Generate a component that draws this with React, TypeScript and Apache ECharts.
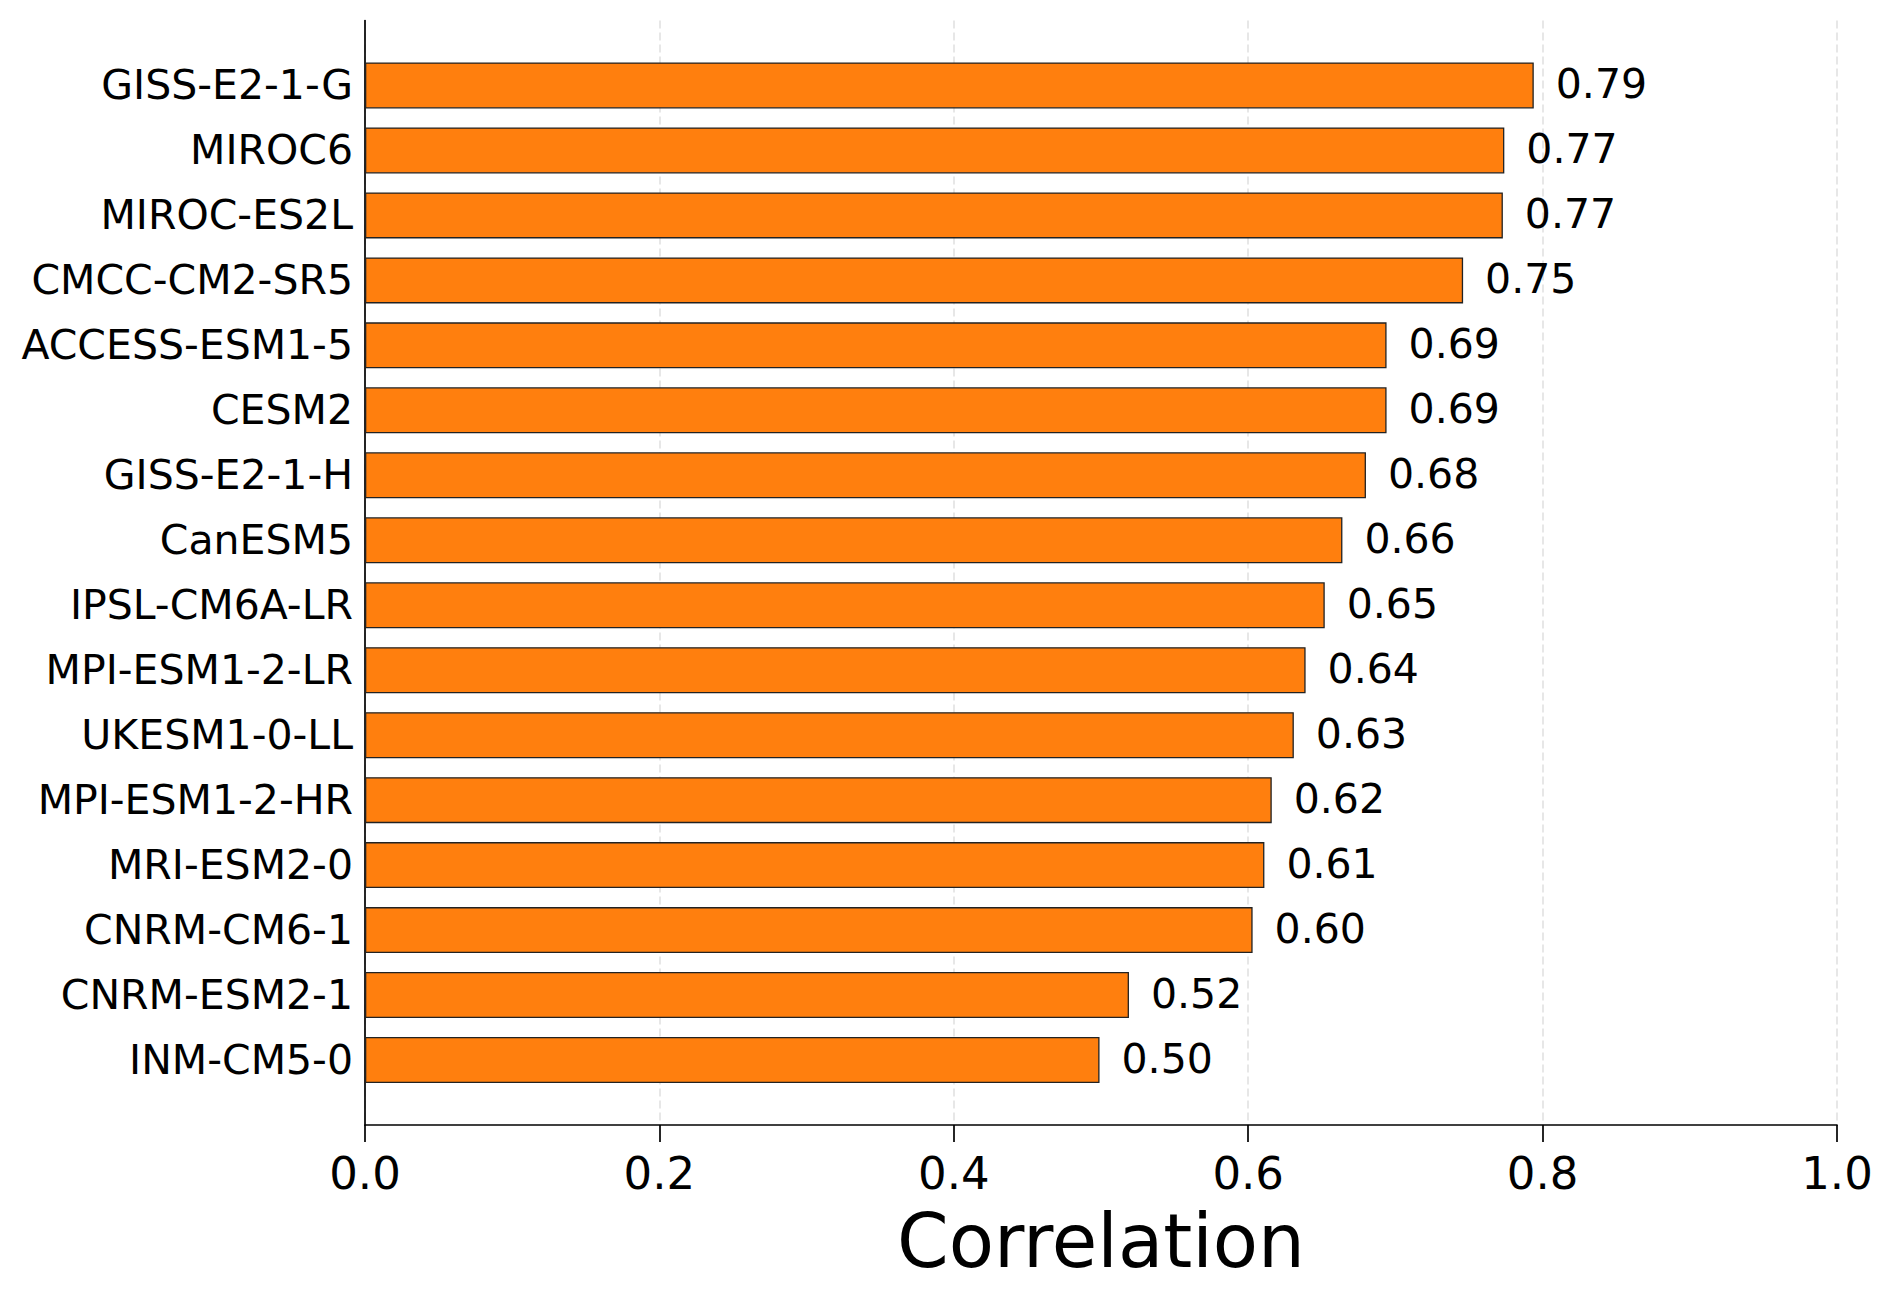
import React, { useEffect, useRef } from "react";
import * as echarts from "echarts";

const MODELS = [
  "GISS-E2-1-G",
  "MIROC6",
  "MIROC-ES2L",
  "CMCC-CM2-SR5",
  "ACCESS-ESM1-5",
  "CESM2",
  "GISS-E2-1-H",
  "CanESM5",
  "IPSL-CM6A-LR",
  "MPI-ESM1-2-LR",
  "UKESM1-0-LL",
  "MPI-ESM1-2-HR",
  "MRI-ESM2-0",
  "CNRM-CM6-1",
  "CNRM-ESM2-1",
  "INM-CM5-0",
];

const CORRELATIONS = [
  0.794, 0.774, 0.773, 0.746, 0.694, 0.694, 0.68, 0.664, 0.652, 0.639, 0.631,
  0.616, 0.611, 0.603, 0.519, 0.499,
];

const X_MIN = 0;
const X_MAX = 1;
const X_INTERVAL = 0.2;
const X_NAME = "Correlation";

const FONT = "DejaVu Sans";

export default function App() {
  const ref = useRef<HTMLDivElement>(null);

  useEffect(() => {
    document.body.style.margin = "0";
    if (!ref.current) return;
    const chart = echarts.init(ref.current, undefined, { renderer: "svg" });
    const yCats = [" ", ...MODELS, "  "];
    chart.setOption({
      animation: false,
      backgroundColor: "#ffffff",
      grid: { left: 365, right: 55, top: 20, bottom: 164, containLabel: false },
      xAxis: {
        type: "value",
        min: X_MIN,
        max: X_MAX,
        interval: X_INTERVAL,
        name: X_NAME,
        nameLocation: "middle",
        nameGap: 79,
        nameTextStyle: { fontSize: 74, color: "#000", fontFamily: FONT },
        axisLine: { show: true, lineStyle: { color: "#000", width: 1.7 } },
        axisTick: { show: true, length: 17, lineStyle: { color: "#000", width: 1.7 } },
        axisLabel: {
          fontSize: 45,
          color: "#000",
          fontFamily: FONT,
          margin: 26,
          formatter: (v: number) => v.toFixed(1),
        },
        splitLine: {
          show: true,
          lineStyle: { color: "#e0e0e0", width: 1.5, type: [8, 4] },
        },
      },
      yAxis: {
        type: "category",
        inverse: true,
        boundaryGap: false,
        data: yCats,
        axisLine: { show: true, lineStyle: { color: "#000", width: 1.7 } },
        axisTick: { show: false },
        axisLabel: {
          fontSize: 41,
          color: "#000",
          fontFamily: FONT,
          margin: 12,
          interval: 0,
        },
        splitLine: { show: false },
      },
      series: [
        {
          type: "bar",
          barWidth: 46,
          data: MODELS.map((m, i) => [CORRELATIONS[i], m]),
          itemStyle: {
            color: "#ff7f0e",
            borderColor: "#222222",
            borderWidth: 1.3,
          },
          label: {
            show: true,
            position: "right",
            distance: 22,
            fontSize: 41,
            color: "#000",
            fontFamily: FONT,
            offset: [0, -1],
            formatter: (p: any) => Number(p.value[0]).toFixed(2),
          },
        },
      ],
    });
    return () => chart.dispose();
  }, []);

  return <div ref={ref} style={{ width: 1892, height: 1289 }} />;
}
